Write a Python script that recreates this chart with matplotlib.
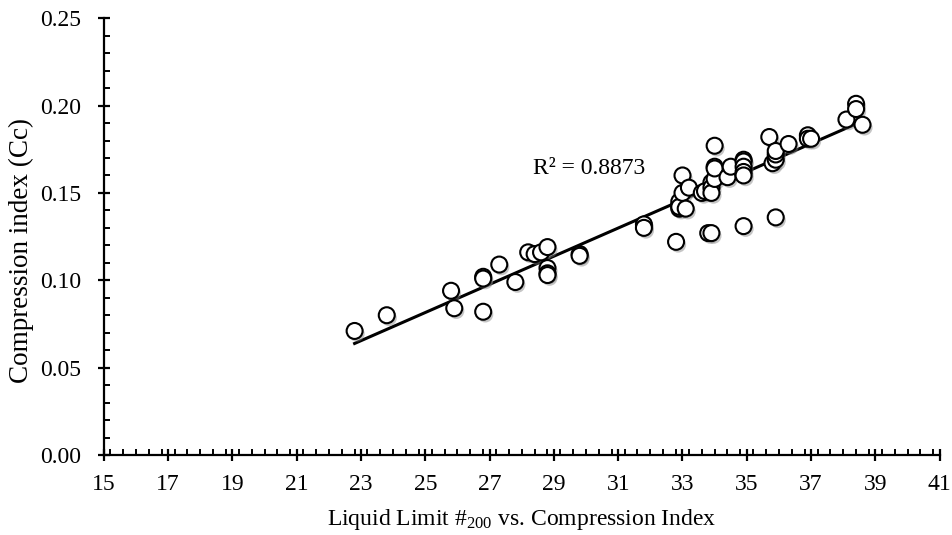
import matplotlib
matplotlib.use('Agg')
import matplotlib.pyplot as plt
from matplotlib import patheffects, font_manager
from matplotlib.ticker import MultipleLocator, FixedLocator, FormatStrFormatter
import numpy as np

# Times-like serif, whichever is installed
names = {f.name for f in font_manager.fontManager.ttflist}
serif = next((n for n in ['Times New Roman', 'Liberation Serif', 'Tinos', 'STIXGeneral']
              if n in names), 'DejaVu Serif')

plt.rcParams['font.family'] = [serif, 'DejaVu Serif']
plt.rcParams['mathtext.fontset'] = 'custom'
plt.rcParams['mathtext.rm'] = serif
plt.rcParams['mathtext.default'] = 'regular'

# liquid limit (passing #200) and compression index
ll = [22.8, 23.8, 25.8, 25.9, 26.8, 26.8, 26.8, 27.3, 27.8,
      28.2, 28.4, 28.6, 28.8, 28.8, 28.8, 28.8, 29.8, 29.8,
      31.8, 31.8, 32.8, 32.9, 32.9, 32.9, 32.9, 33.0, 33.0, 33.1, 33.2,
      33.6, 33.7, 33.8, 33.9, 33.9, 33.9, 33.9, 34.0, 34.0, 34.0, 34.0,
      34.4, 34.5, 34.9, 34.9, 34.9, 34.9, 34.9, 34.9,
      35.7, 35.8, 35.9, 35.9, 35.9, 35.9, 36.3, 36.9, 36.9, 37.0,
      38.1, 38.4, 38.4, 38.6]
cc = [0.071, 0.080, 0.094, 0.084, 0.102, 0.101, 0.082, 0.109, 0.099,
      0.116, 0.115, 0.116, 0.119, 0.107, 0.104, 0.103, 0.115, 0.114,
      0.132, 0.130, 0.122, 0.143, 0.141, 0.145, 0.142, 0.160, 0.150, 0.141, 0.153,
      0.150, 0.151, 0.127, 0.127, 0.156, 0.153, 0.150, 0.158, 0.165, 0.164, 0.177,
      0.159, 0.165, 0.169, 0.168, 0.165, 0.162, 0.160, 0.131,
      0.182, 0.167, 0.169, 0.172, 0.174, 0.136, 0.178, 0.183, 0.181, 0.181,
      0.192, 0.201, 0.198, 0.189]
r2_text = 'R² = 0.8873'

x = np.array(ll)
y = np.array(cc)
m, b = np.polyfit(x, y, 1)
xf = np.array([x.min(), x.max()])

fig = plt.figure(figsize=(9.53, 5.35), dpi=100)
ax = fig.add_axes([0.109, 0.1495, 0.877, 0.8165])

ax.plot(xf, m * xf + b, color='black', lw=2.2, zorder=2)
shadow = [patheffects.SimplePatchShadow(offset=(1.5, -2), alpha=0.45, shadow_rgbFace='gray'),
          patheffects.Normal()]
ax.plot(x, y, 'o', ms=11.5, mfc='white', mec='black', mew=1.5,
        zorder=3, path_effects=shadow)

ax.text(30.1, 0.164, r2_text, fontsize=17, ha='center', va='center')

ax.set_xlim(15, 41)
ax.set_ylim(0, 0.25)
ax.xaxis.set_major_locator(FixedLocator(np.arange(15, 42, 2)))
ax.xaxis.set_minor_locator(MultipleLocator(0.4))
ax.yaxis.set_major_locator(MultipleLocator(0.05))
ax.yaxis.set_minor_locator(MultipleLocator(0.01))
ax.yaxis.set_major_formatter(FormatStrFormatter('%.2f'))

for s in ['top', 'right']:
    ax.spines[s].set_visible(False)
for s in ['left', 'bottom']:
    ax.spines[s].set_linewidth(1.6)

ax.tick_params(which='major', direction='inout', length=9, width=1.6, labelsize=17)
ax.tick_params(axis='x', which='major', pad=9)
ax.tick_params(axis='y', which='major', pad=12)
ax.tick_params(which='minor', direction='in', length=4, width=1.4)

ax.set_xlabel(r'Liquid Limit #$_{200}$ vs. Compression Index', fontsize=17, labelpad=9)
ax.set_ylabel('Compression index (Cc)', fontsize=19.5, labelpad=4)
ax.yaxis.label.set_y(0.468)

plt.savefig('out.png', dpi=100)
